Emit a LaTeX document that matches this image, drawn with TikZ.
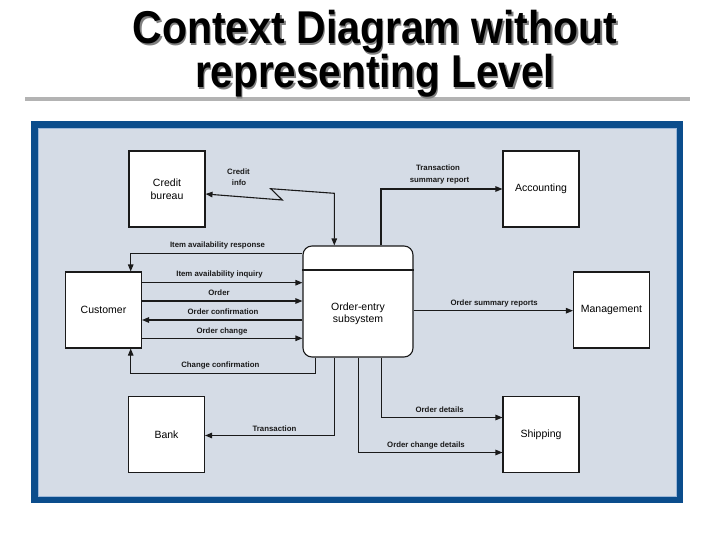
\documentclass[tikz,border=0pt]{standalone}
\usepackage{fontspec}
\setmainfont{Liberation Sans}
\usetikzlibrary{arrows.meta,calc}
\definecolor{frameblue}{HTML}{0B4D8C}
\definecolor{panel}{HTML}{D5DCE6}
\definecolor{paneledge}{HTML}{9DB8D9}
\definecolor{rulegray}{HTML}{B3B3B3}
\definecolor{ink}{HTML}{1A1A1A}
\begin{document}
\begin{tikzpicture}[x=1pt,y=-1pt,
  entity/.style={draw=ink,line width=1.1pt,fill=white,minimum width=76pt,minimum height=76pt,inner sep=0pt,align=center,font=\fontsize{10.5}{12.7}\selectfont},
  flow/.style={draw=ink,line width=1.1pt,arrows={-Triangle[length=7pt,width=5.5pt]}},
  biflow/.style={draw=ink,line width=1.1pt,arrows={Triangle[length=7pt,width=5.5pt]-Triangle[length=7pt,width=5.5pt]}},
  flowlab/.style={font=\bfseries\fontsize{7.8}{9}\selectfont,inner sep=0pt,text height=5.6pt,text depth=1.6pt,text=ink},
  titletext/.style={font=\bfseries\fontsize{46}{50}\selectfont,anchor=base,inner sep=0pt}
  ]
\useasboundingbox (0,0) rectangle (720,540);
% title
\draw[rulegray,line width=3.5pt] (25,99) -- (690,99);
\node[titletext,text=gray] (t1s) at (376.5,45.5) {\scalebox{0.89}[1]{Context Diagram without}};
\node[titletext,text=gray] (t2s) at (376.5,89.5) {\scalebox{0.88}[1]{representing Level}};
\node[titletext,text=black] (t1) at (375,44) {\scalebox{0.89}[1]{Context Diagram without}};
\node[titletext,text=black] (t2) at (375,88) {\scalebox{0.88}[1]{representing Level}};
% frame
\fill[frameblue] (31,121) rectangle (683,503);
\filldraw[fill=panel,draw=paneledge,line width=0.8pt] (38.5,128.5) rectangle (676,496);
% entities
\node[entity] (cb) at (167,189) {Credit\\bureau};
\node[entity] (acc) at (541,189) {Accounting};
\node[entity] (cust) at (103.5,310) {Customer};
\node[entity] (mgmt) at (611.5,310) {Management};
\node[entity] (bank) at (166.5,434.5) {Bank};
\node[entity] (ship) at (541,434.5) {Shipping};
\node[draw=ink,line width=1.1pt,fill=white,rounded corners=9pt,minimum width=110pt,minimum height=111pt,inner sep=0pt] (oes) at (358,301.5) {};
\coordinate (rDiv) at (0,270);
\draw[ink,line width=1.1pt] (oes.west |- rDiv) -- (oes.east |- rDiv);
\node[align=center,font=\fontsize{10.5}{12}\selectfont,inner sep=0pt] (oestext) at (358,314) {Order-entry\\subsystem};
% rows and columns
\coordinate (rCI) at (0,194);
\coordinate (rTS) at (0,189);
\coordinate (rResp) at (0,253.3);
\coordinate (rInq) at (0,282.7);
\coordinate (rOrd) at (0,301);
\coordinate (rConf) at (0,320);
\coordinate (rChg) at (0,338.3);
\coordinate (rCC) at (0,373.3);
\coordinate (rSum) at (0,310.7);
\coordinate (rTr) at (0,435.5);
\coordinate (rOD) at (0,417.5);
\coordinate (rOCD) at (0,452.5);
\coordinate (xCust) at (130.7,0);
\coordinate (xCC) at (315.5,0);
\coordinate (xCI) at (334.3,0);
\coordinate (xOCD) at (358.3,0);
\coordinate (xOD) at (381.5,0);
\coordinate (xTS) at (381,0);
\coordinate (z1) at (282.3,200);
\coordinate (z2) at (270.7,188.7);
\coordinate (z3) at (334.3,193.3);
% flows
\draw[biflow] (cb.east |- rCI) -- (z1) -- (z2) -- (z3) -- (oes.north -| xCI);
\draw[flow] (oes.north -| xTS) |- (acc.west |- rTS);
\draw[flow] (oes.west |- rResp) -| (cust.north -| xCust);
\draw[flow] (cust.east |- rInq) -- (oes.west |- rInq);
\draw[flow] (cust.east |- rOrd) -- (oes.west |- rOrd);
\draw[flow] (oes.west |- rConf) -- (cust.east |- rConf);
\draw[flow] (cust.east |- rChg) -- (oes.west |- rChg);
\draw[flow] (oes.south -| xCC) |- (rCC -| xCust) -- (cust.south -| xCust);
\draw[flow] (oes.east |- rSum) -- (mgmt.west |- rSum);
\draw[flow] (oes.south -| xCI) |- (bank.east |- rTr);
\draw[flow] (oes.south -| xOD) |- (ship.west |- rOD);
\draw[flow] (oes.south -| xOCD) |- (ship.west |- rOCD);
% labels
\node[flowlab] (lci1) at (238.5,172.7) {Credit};
\node[flowlab] (lci2) at (239,183.3) {info};
\node[flowlab] (lts1) at (438,169) {Transaction};
\node[flowlab] (lts2) at (439.5,180.7) {summary report};
\node[flowlab] (lresp) at (217.5,245.7) {Item availability response};
\node[flowlab] (linq) at (219.5,274.3) {Item availability inquiry};
\node[flowlab] (lord) at (219,293.3) {Order};
\node[flowlab] (lconf) at (223,312.7) {Order confirmation};
\node[flowlab] (lchg) at (222,331) {Order change};
\node[flowlab] (lcc) at (220.3,365.7) {Change confirmation};
\node[flowlab] (lsum) at (494.2,303.3) {Order summary reports};
\node[flowlab] (ltr) at (274.5,429) {Transaction};
\node[flowlab] (lod) at (439.7,410.7) {Order details};
\node[flowlab] (locd) at (426,445) {Order change details};
\end{tikzpicture}
\end{document}
